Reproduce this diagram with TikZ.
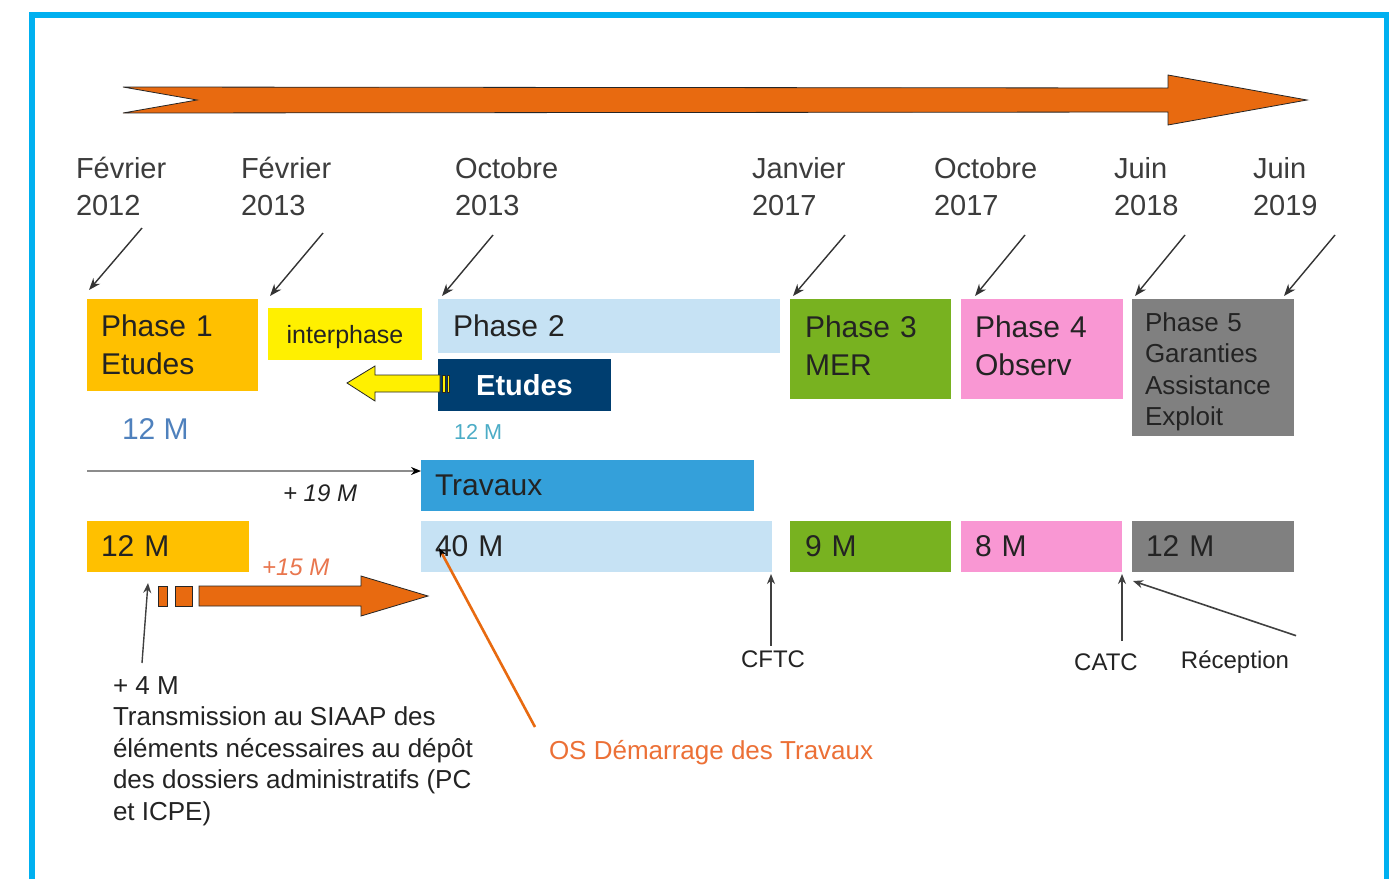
\documentclass[tikz,border=0pt]{standalone}
\usepackage{fontspec}
\setmainfont{Liberation Sans}
\usetikzlibrary{arrows.meta}

\definecolor{frame}{RGB}{0,176,240}
\definecolor{orng}{RGB}{232,106,16}
\definecolor{gold}{RGB}{255,192,0}
\definecolor{lemon}{RGB}{255,240,0}
\definecolor{pale}{RGB}{198,226,244}
\definecolor{navy}{RGB}{0,62,112}
\definecolor{leaf}{RGB}{120,178,32}
\definecolor{rose}{RGB}{249,151,211}
\definecolor{slate}{RGB}{128,128,128}
\definecolor{works}{RGB}{52,160,218}
\definecolor{ink}{RGB}{35,35,35}
\definecolor{dateink}{RGB}{60,60,60}
\definecolor{steel}{RGB}{79,129,189}
\definecolor{aqua}{RGB}{75,172,198}
\definecolor{salmon}{RGB}{233,118,78}
\definecolor{ostext}{RGB}{236,112,54}
\definecolor{rule}{RGB}{140,140,140}

\newcommand\fsz[2]{\fontsize{#1}{#2}\selectfont}

\begin{document}
\begin{tikzpicture}[x=1pt,y=-1pt,
  every node/.style={inner sep=0pt, outer sep=0pt, text=ink},
  mbox/.style={inner ysep=0pt, inner xsep=14pt, align=left, font=\fsz{30}{38}},
  pbox/.style={mbox, text depth=0pt},
  cbox/.style={inner sep=0pt, align=center, text depth=0pt},
  datelbl/.style={anchor=north west, align=left, text=dateink, font=\fsz{29}{37}},
  datearrow/.style={draw=black!80, line width=1.4pt, -{Stealth[length=12pt,width=9pt]}},
  milestone/.style={draw=black!75, line width=1.6pt, -{Stealth[length=10pt,width=8pt]}},
  blockarrow/.style={draw=black!85, line width=0.8pt, line join=miter},
  lbl/.style={font=\fsz{24}{28}, outer sep=5pt}
]
\useasboundingbox (0,0) rectangle (1389,879);
\fill[white] (0,0) rectangle (1389,879);

% frame
\draw[frame, line width=6pt, line join=miter] (32,879) -- (32,15) -- (1387,15) -- (1387,879);

% time axis arrow
\filldraw[blockarrow, fill=orng]
  (123,87) -- (1168,88) -- (1168,75) -- (1307,100) -- (1168,125) -- (1168,112)
  -- (123,113) -- (197,100) -- cycle;

% dates
\node[datelbl] (t1) at (76,157)   {Février\\2012};
\node[datelbl] (t2) at (241,157)  {Février\\2013};
\node[datelbl] (t3) at (455,157)  {Octobre\\2013};
\node[datelbl] (t4) at (752,157)  {Janvier\\2017};
\node[datelbl] (t5) at (934,157)  {Octobre\\2017};
\node[datelbl] (t6) at (1114,157) {Juin\\2018};
\node[datelbl] (t7) at (1253,157) {Juin\\2019};

% phase row
\node[mbox, fill=gold, text width=143pt, minimum height=92pt] (p1) at (172.5,345) {Phase 1\\Etudes};
\node[cbox, fill=lemon, minimum width=154pt, minimum height=52pt, font=\fsz{25}{30}] (ip) at (345,334) {interphase};
\node[pbox, fill=pale, text width=312pt, inner xsep=15pt, minimum height=54pt] (p2) at (609,326) {Phase 2};
\node[cbox, fill=navy, minimum width=173pt, minimum height=52pt, text=white, font=\bfseries\fsz{29}{34}] (et) at (524.5,385) {Etudes};
\node[mbox, fill=leaf, text width=131pt, inner xsep=15pt, minimum height=100pt, text depth=44pt] (p3) at (870.5,349) {Phase 3\\MER};
\node[mbox, fill=rose, text width=134pt, minimum height=100pt, text depth=44pt] (p4) at (1042,349) {Phase 4\\Observ};
\node[mbox, fill=slate, text width=136pt, inner xsep=13pt, minimum height=137pt, text depth=91pt, font=\fsz{26}{31.3}] (p5) at (1213,367.5) {Phase 5\\Garanties\\Assistance\\Exploit};

% back-pointing arrow from the studies block
\filldraw[blockarrow, fill=lemon]
  (347,383) -- (375,366) -- (375,375) -- (440,375) -- (440,392) -- (375,392) -- (375,401) -- cycle;
\filldraw[blockarrow, fill=lemon] (442.5,375) rectangle (445,392);
\filldraw[blockarrow, fill=lemon] (447,375) rectangle (449.5,392);

\node[anchor=base west, text=steel, font=\fsz{30}{34}] (m1) at (122,439) {12 M};
\node[anchor=base west, text=aqua, font=\fsz{21.6}{25}] (m2) at (454,439) {12 M};

% works row
\node[pbox, fill=works, text width=305pt, minimum height=51pt] (tr) at (587.5,485.5) {Travaux};
\coordinate (c19) at (87,471);
\draw[draw=rule, line width=2pt, -{Stealth[length=10pt,width=8pt,black]}] (c19) -- (c19 -| tr.west);
\node[anchor=base west, font=\itshape\fsz{24}{28}] (a19) at (283,501) {+ 19 M};

% budget row
\node[pbox, fill=gold,  text width=134pt, minimum height=51pt] (b1) at (168,546.5) {12 M};
\node[pbox, fill=pale,  text width=323pt, minimum height=51pt] (b2) at (596.5,546.5) {40 M};
\node[pbox, fill=leaf,  text width=131pt, inner xsep=15pt, minimum height=51pt] (b3) at (870.5,546.5) {9 M};
\node[pbox, fill=rose,  text width=133pt, minimum height=51pt] (b4) at (1041.5,546.5) {8 M};
\node[pbox, fill=slate, text width=134pt, minimum height=51pt] (b5) at (1213,546.5) {12 M};

\node[anchor=base west, text=salmon, font=\itshape\fsz{24}{28}] (a15) at (262,575) {+15 M};
\filldraw[blockarrow, fill=orng] (158,586) rectangle (167,606);
\filldraw[blockarrow, fill=orng] (175,586) rectangle (192,606);
\filldraw[blockarrow, fill=orng]
  (199,586) -- (361,586) -- (361,576) -- (428,596) -- (361,616) -- (361,606) -- (199,606) -- cycle;

% note on administrative files
\node[anchor=north west, align=left, font=\fsz{26}{31.5}] (note) at (113,676.5)
  {+ 4 M\\Transmission au SIAAP des\\éléments nécessaires au dépôt\\des dossiers administratifs (PC\\et ICPE)};
\coordinate (n4s) at (142,663);
\coordinate (n4e) at (148,583);
\draw[milestone, line width=1.4pt] (n4s) -- (n4e);

% start of works
\node[anchor=base west, text=ostext, font=\fsz{26}{30}] (os) at (549,759) {OS Démarrage des Travaux};
\coordinate (oss) at (535,727);
\coordinate (ose) at (439,548);
\draw[draw=orng, line width=2.6pt, -{Stealth[length=9pt,width=7pt,black]}] (oss) -- (ose);

% milestones
\node[lbl] (cftc) at (773,659) {CFTC};
\coordinate (cftcTip) at (771,574);
\draw[milestone] (cftc.north -| cftcTip) -- (cftcTip);

\node[lbl] (catc) at (1106,662) {CATC};
\coordinate (catcTip) at (1122,574);
\draw[milestone] (catcTip |- 0,641) -- (catcTip);

\node[lbl] (rec) at (1235,662) {Réception};
\coordinate (recTip) at (1133,581);
\draw[milestone] ([xshift=2pt,yshift=10pt]rec.north east) -- (recTip);

% date pointers
\coordinate (s1) at (142,228);  \coordinate (e1) at (89,290);
\coordinate (s2) at (323,233);  \coordinate (e2) at (270,296);
\coordinate (s3) at (493,235);  \coordinate (e3) at (442,296);
\coordinate (s4) at (845,235);  \coordinate (e4) at (793,296);
\coordinate (s5) at (1025,235); \coordinate (e5) at (975,296);
\coordinate (s6) at (1185,235); \coordinate (e6) at (1135,296);
\coordinate (s7) at (1335,235); \coordinate (e7) at (1284,296);
\foreach \i in {1,...,7} \draw[datearrow] (s\i) -- (e\i);
\end{tikzpicture}
\end{document}
